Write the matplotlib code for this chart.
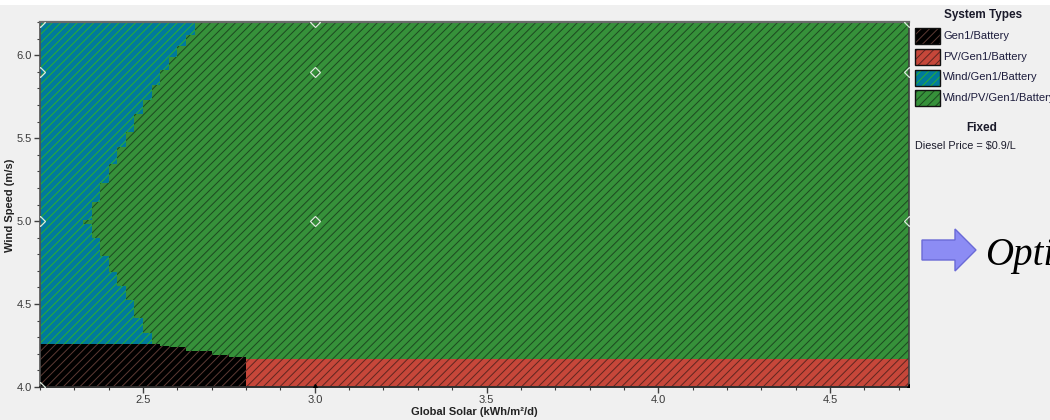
import matplotlib
matplotlib.use("Agg")
import matplotlib.pyplot as plt
from matplotlib.patches import Rectangle, Polygon
from matplotlib.ticker import MultipleLocator, FormatStrFormatter

plt.rcParams['font.family'] = ['Liberation Sans', 'DejaVu Sans']
plt.rcParams['hatch.linewidth'] = 0.7

W, H = 1050, 420

# plot extents
solar_range = (2.2, 4.73)
wind_range = (4.0, 6.2)

system_types = ["Gen1/Battery", "PV/Gen1/Battery", "Wind/Gen1/Battery", "Wind/PV/Gen1/Battery"]
type_colors = ["#000000", "#C6473A", "#007A9C", "#36913A"]
hatch_colors = ["#5C3A34", "#5E2620", "#2AB030", "#1C4820"]
HATCH = "////"

# Wind/Gen1/Battery: wind-speed band edges and the solar level where each band ends
wind_gen_band_edges = [4.259, 4.325, 4.416, 4.524, 4.608, 4.693, 4.789, 4.898, 4.982,
                       5.006, 5.114, 5.229, 5.343, 5.446, 5.536, 5.645, 5.729, 5.819,
                       5.910, 5.988, 6.054, 6.120, 6.2]
wind_gen_solar_limit = [2.525, 2.5, 2.475, 2.45, 2.425, 2.4, 2.375, 2.35, 2.325,
                        2.35, 2.375, 2.4, 2.425, 2.45, 2.475, 2.5, 2.525, 2.55,
                        2.575, 2.6, 2.625, 2.65]

# Gen1/Battery: solar band edges and the wind-speed ceiling of each band
gen_solar_edges = [2.2, 2.55, 2.575, 2.625, 2.70, 2.75, 2.80]
gen_wind_limit = [4.26, 4.25, 4.24, 4.215, 4.195, 4.18]

# PV/Gen1/Battery
pv_solar_edges = [2.80, 4.73]
pv_wind_limit = [4.17]

# sensitivity cases
case_solar = [2.2, 3.0, 4.73]
case_wind = [5.0, 5.9, 6.2]
base_solar = [2.2]
base_wind = [4.0]
low_wind_solar = [3.0, 4.73]
low_wind_wind = [4.0, 4.0]

fixed_label = "Diesel Price = $0.9/L"

fig = plt.figure(figsize=(W / 100, H / 100), dpi=100, facecolor="#F0F0F0")
fig.add_artist(Rectangle((0, 1 - 5 / H), 1, 5 / H, transform=fig.transFigure,
                         facecolor="white", edgecolor="none"))

ax = fig.add_axes([40 / W, 1 - 387 / H, 869 / W, 365 / H])
ax.set_xlim(*solar_range)
ax.set_ylim(*wind_range)

def region(kind):
    return dict(facecolor=type_colors[kind], edgecolor=hatch_colors[kind],
                hatch=HATCH, linewidth=0)

# Wind/PV/Gen1/Battery covers everything else
ax.fill_between(list(solar_range), wind_range[0], wind_range[1], **region(3))
ax.fill_betweenx(wind_gen_band_edges, solar_range[0],
                 wind_gen_solar_limit + wind_gen_solar_limit[-1:], step="post", **region(2))
ax.fill_between(gen_solar_edges, wind_range[0],
                gen_wind_limit + gen_wind_limit[-1:], step="post", **region(0))
ax.fill_between(pv_solar_edges, wind_range[0],
                pv_wind_limit + pv_wind_limit[-1:], step="post", **region(1))

for w in case_wind:
    ax.plot(case_solar, [w] * len(case_solar), linestyle="none", marker="D", ms=5,
            mfc="none", mec="#DCEADC", mew=0.9, zorder=5)
ax.plot(base_solar, base_wind, linestyle="none", marker="D", ms=5,
        mfc="none", mec="#DCEADC", mew=0.9, zorder=5)
ax.plot(low_wind_solar, low_wind_wind, linestyle="none", marker="^", ms=5,
        mfc="#000000", mec="#000000", zorder=5)

ax.xaxis.set_major_locator(MultipleLocator(0.5))
ax.xaxis.set_minor_locator(MultipleLocator(0.1))
ax.yaxis.set_major_locator(MultipleLocator(0.5))
ax.yaxis.set_minor_locator(MultipleLocator(0.1))
ax.xaxis.set_major_formatter(FormatStrFormatter("%.1f"))
ax.yaxis.set_major_formatter(FormatStrFormatter("%.1f"))
ax.tick_params(which="major", length=4, width=1, color="#404040",
               labelsize=8, labelcolor="#3A3A3A", pad=2)
ax.tick_params(which="minor", length=2.5, width=0.8, color="#404040")
for side, col, lw in [("left", "#505050", 1.2), ("bottom", "#303030", 1.4),
                      ("top", "#6A6A6A", 1.6), ("right", "#404040", 1.2)]:
    ax.spines[side].set_color(col)
    ax.spines[side].set_linewidth(lw)

fig.text(10 / W, 1 - 205 / H, "Wind Speed (m/s)", rotation=90, ha="center", va="center",
         fontsize=8, fontweight="bold", color="#222222")
fig.text(474 / W, 1 - 412 / H, "Global Solar (kWh/m\u00b2/d)", ha="center", va="center",
         fontsize=8, fontweight="bold", color="#222222")

# legend panel
def fx(x):
    return x / W

def fy(y):
    return 1 - y / H

fig.text(fx(983), fy(15), "System Types", ha="center", va="center",
         fontsize=8.5, fontweight="bold", color="#1A1A2A")
row_top = [28, 49, 69.5, 90]
for k, name in enumerate(system_types):
    y0 = row_top[k]
    fig.add_artist(Rectangle((fx(915), fy(y0 + 16)), 25 / W, 16 / H, transform=fig.transFigure,
                             facecolor=type_colors[k], edgecolor=hatch_colors[k],
                             hatch=HATCH, linewidth=0))
    fig.add_artist(Rectangle((fx(915), fy(y0 + 16)), 25 / W, 16 / H, transform=fig.transFigure,
                             facecolor="none", edgecolor="#101010", linewidth=1))
    fig.text(fx(943), fy(y0 + 8), name, ha="left", va="center", fontsize=8, color="#1C1C3C")

fig.text(fx(982), fy(128), "Fixed", ha="center", va="center",
         fontsize=8.5, fontweight="bold", color="#1A1A2A")
fig.text(fx(915), fy(146), fixed_label, ha="left", va="center", fontsize=7.8, color="#1A1A2A")

# arrow and caption
arrow_px = [(922, 240), (955, 240), (955, 229), (976, 250), (955, 271), (955, 260), (922, 260)]
fig.add_artist(Polygon([(fx(x), fy(y)) for x, y in arrow_px], closed=True,
                       transform=fig.transFigure, facecolor="#8C8CF4",
                       edgecolor="#6A6AD6", linewidth=1))
fig.text(fx(985), fy(265), "Optimal", ha="left", va="baseline", fontsize=28,
         family=["Liberation Serif"], style="italic", color="#000000")

fig.savefig("out.png", dpi=100, facecolor=fig.get_facecolor())
